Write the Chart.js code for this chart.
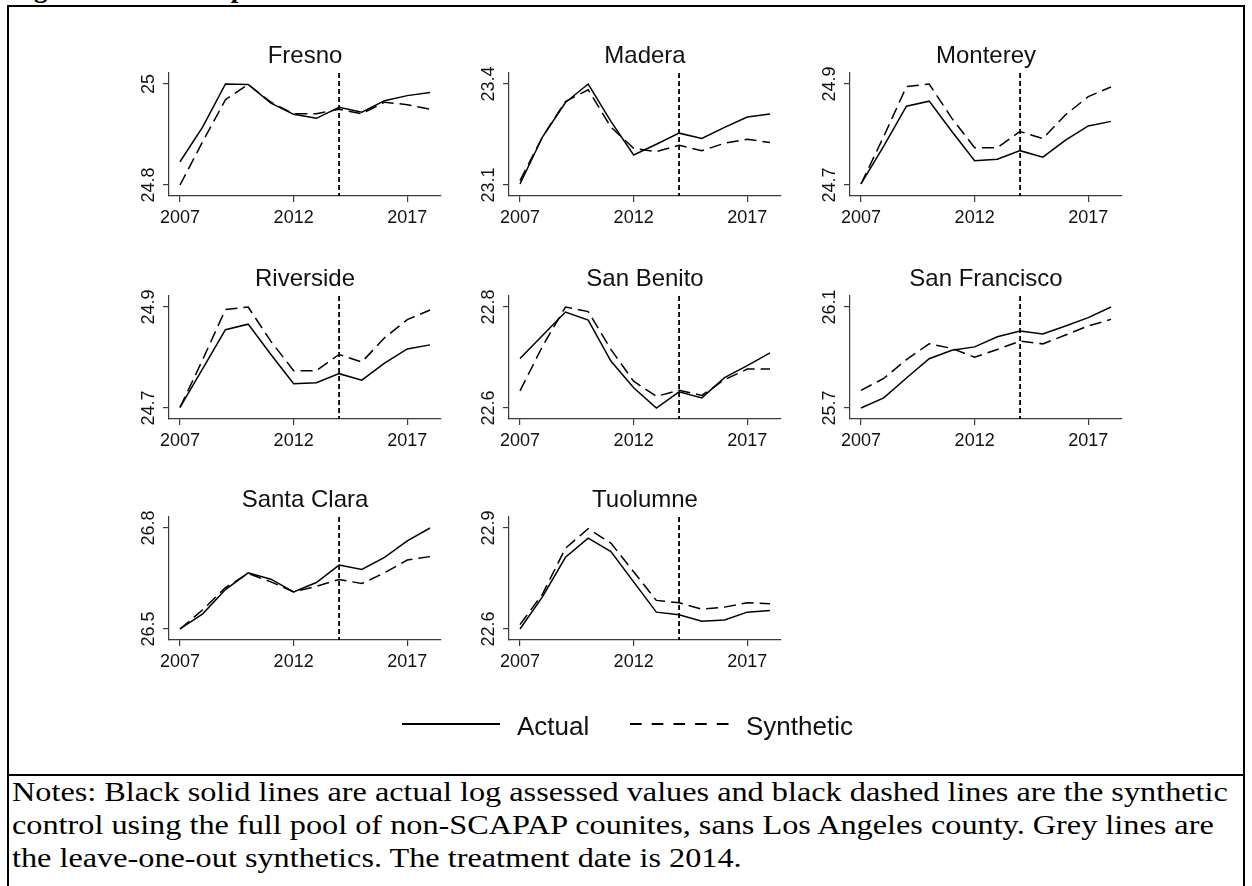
<!DOCTYPE html>
<html>
<head>
<meta charset="utf-8">
<script src="https://cdn.jsdelivr.net/npm/chart.js@4.4.0/dist/chart.umd.min.js"></script>
<style>
  body { margin: 0; width: 1252px; height: 886px; overflow: hidden; position: relative; background: #fff; }
  #frame { position: absolute; left: 7px; top: 5px; width: 1238px; height: 890px; border: 2px solid #000; box-sizing: border-box; }
  #rule { position: absolute; left: 7px; top: 774px; width: 1238px; height: 2px; background: #000; }
  #caption { position: absolute; left: 10px; top: -25px; font: bold 27px/27px "Liberation Serif", "Times New Roman", serif; white-space: nowrap; }
  #notes { position: absolute; left: 12px; top: 776px; font: 27px/33px "Liberation Serif", "Times New Roman", serif; color: #000; white-space: nowrap; transform: scaleX(1.195); transform-origin: 0 0; }
  canvas { position: absolute; }
</style>
</head>
<body>
<div id="caption">Figure 12: Treated panels</div>
<div id="frame"></div>
<div id="rule"></div>
<canvas id="legend" width="1252" height="60" style="left:0;top:700px"></canvas>
<div id="notes">Notes: Black solid lines are actual log assessed values and black dashed lines are the synthetic<br>control using the full pool of non-SCAPAP counites, sans Los Angeles county. Grey lines are<br>the leave-one-out synthetics. The treatment date is 2014.</div>

<script>
const years = [2007, 2008, 2009, 2010, 2011, 2012, 2013, 2014, 2015, 2016, 2017, 2018]
const xTicks = [2007, 2012, 2017]
const treatYear = 2014

const counties = ["Fresno", "Madera", "Monterey", "Riverside", "San Benito", "San Francisco", "Santa Clara", "Tuolumne"]

const fresnoActual    = [24.846, 24.915, 25.000, 24.999, 24.962, 24.940, 24.932, 24.954, 24.944, 24.967, 24.977, 24.983]
const fresnoSynthetic = [24.800, 24.886, 24.969, 24.999, 24.964, 24.941, 24.941, 24.950, 24.941, 24.964, 24.959, 24.950]
const fresnoTicks = [24.8, 25]

const maderaActual    = [23.103, 23.244, 23.345, 23.400, 23.289, 23.189, 23.221, 23.254, 23.238, 23.271, 23.302, 23.311]
const maderaSynthetic = [23.113, 23.244, 23.348, 23.383, 23.272, 23.209, 23.199, 23.218, 23.202, 23.224, 23.236, 23.226]
const maderaTicks = [23.1, 23.4]

const montereyActual    = [24.702, 24.777, 24.856, 24.866, 24.806, 24.748, 24.751, 24.768, 24.755, 24.789, 24.817, 24.826]
const montereySynthetic = [24.702, 24.796, 24.895, 24.900, 24.832, 24.774, 24.774, 24.806, 24.792, 24.839, 24.875, 24.894]
const montereyTicks = [24.7, 24.9]

const riversideActual    = [24.701, 24.778, 24.855, 24.866, 24.806, 24.748, 24.750, 24.768, 24.755, 24.789, 24.817, 24.825]
const riversideSynthetic = [24.701, 24.796, 24.895, 24.900, 24.832, 24.774, 24.774, 24.806, 24.791, 24.839, 24.875, 24.894]
const riversideTicks = [24.7, 24.9]

const sanBenitoActual    = [22.698, 22.744, 22.790, 22.774, 22.693, 22.640, 22.600, 22.632, 22.620, 22.660, 22.684, 22.709]
const sanBenitoSynthetic = [22.634, 22.723, 22.800, 22.791, 22.716, 22.653, 22.623, 22.635, 22.625, 22.656, 22.677, 22.677]
const sanBenitoTicks = [22.6, 22.8]

const sanFranciscoActual    = [25.700, 25.740, 25.819, 25.895, 25.929, 25.942, 25.982, 26.005, 25.993, 26.025, 26.058, 26.100]
const sanFranciscoSynthetic = [25.770, 25.817, 25.892, 25.954, 25.936, 25.901, 25.932, 25.965, 25.954, 25.989, 26.025, 26.051]
const sanFranciscoTicks = [25.7, 26.1]

const santaClaraActual    = [26.500, 26.545, 26.617, 26.667, 26.648, 26.610, 26.638, 26.690, 26.677, 26.713, 26.762, 26.800]
const santaClaraSynthetic = [26.500, 26.557, 26.623, 26.665, 26.640, 26.610, 26.627, 26.647, 26.635, 26.667, 26.705, 26.715]
const santaClaraTicks = [26.5, 26.8]

const tuolumneActual    = [22.600, 22.697, 22.813, 22.870, 22.830, 22.740, 22.650, 22.642, 22.623, 22.627, 22.650, 22.655]
const tuolumneSynthetic = [22.613, 22.705, 22.840, 22.898, 22.855, 22.770, 22.685, 22.678, 22.659, 22.665, 22.678, 22.675]
const tuolumneTicks = [22.6, 22.9]

const panelActual = [fresnoActual, maderaActual, montereyActual, riversideActual, sanBenitoActual, sanFranciscoActual, santaClaraActual, tuolumneActual]
const panelSynthetic = [fresnoSynthetic, maderaSynthetic, montereySynthetic, riversideSynthetic, sanBenitoSynthetic, sanFranciscoSynthetic, santaClaraSynthetic, tuolumneSynthetic]
const panelTicks = [fresnoTicks, maderaTicks, montereyTicks, riversideTicks, sanBenitoTicks, sanFranciscoTicks, santaClaraTicks, tuolumneTicks]

const FONT = "'Liberation Sans', Arial, sans-serif"
const AXIS = "#3a3a3a"
const colLeft = [169, 509, 850]
const rowTop = [73, 296, 517]

Chart.defaults.font.family = FONT
Chart.defaults.color = "#111"

// title, rotated y labels and the treatment line
const decor = {
  id: "decor",
  afterDatasetsDraw(chart, args, opts) {
    const ctx = chart.ctx
    const area = chart.chartArea
    const x = chart.scales.x.getPixelForValue(treatYear)
    ctx.save()
    ctx.strokeStyle = "#000"
    ctx.lineWidth = 1.8
    ctx.setLineDash([5, 3])
    ctx.beginPath()
    ctx.moveTo(x, area.top)
    ctx.lineTo(x, area.bottom)
    ctx.stroke()
    ctx.setLineDash([])

    ctx.fillStyle = "#111"
    ctx.font = "24px " + FONT
    ctx.textAlign = "center"
    ctx.textBaseline = "alphabetic"
    ctx.fillText(opts.title, (area.left + area.right) / 2, area.top - 10)

    ctx.font = "18px " + FONT
    opts.ticks.forEach(v => {
      const y = chart.scales.y.getPixelForValue(v)
      ctx.save()
      ctx.translate(area.left - 15, y)
      ctx.rotate(-Math.PI / 2)
      ctx.fillText(String(v), 0, 0)
      ctx.restore()
    })
    ctx.restore()
  }
}

function makePanel(i) {
  const canvas = document.createElement("canvas")
  canvas.width = 342
  canvas.height = 210
  canvas.style.left = (colLeft[i % 3] - 60) + "px"
  canvas.style.top = (rowTop[Math.floor(i / 3)] - 40) + "px"
  document.body.appendChild(canvas)

  const ticks = panelTicks[i]
  const pad = (ticks[1] - ticks[0]) * 0.109
  const xPad = 0.484

  new Chart(canvas, {
    type: "line",
    data: {
      datasets: [
        {
          label: "Actual",
          data: years.map((y, k) => ({ x: y, y: panelActual[i][k] })),
          borderColor: "#000",
          borderWidth: 1.5,
          pointRadius: 0,
          tension: 0
        },
        {
          label: "Synthetic",
          data: years.map((y, k) => ({ x: y, y: panelSynthetic[i][k] })),
          borderColor: "#000",
          borderWidth: 1.5,
          borderDash: [12, 6],
          pointRadius: 0,
          tension: 0
        }
      ]
    },
    options: {
      responsive: false,
      animation: false,
      devicePixelRatio: 1,
      layout: { padding: { top: 40, right: 10, left: 0, bottom: 0 } },
      plugins: {
        legend: { display: false },
        tooltip: { enabled: false },
        decor: { title: counties[i], ticks: ticks }
      },
      scales: {
        x: {
          type: "linear",
          min: years[0] - xPad,
          max: years[years.length - 1] + xPad,
          afterBuildTicks: s => { s.ticks = xTicks.map(v => ({ value: v })) },
          afterFit: s => { s.height = 47 },
          grid: { drawOnChartArea: false, drawTicks: true, tickLength: 6, color: AXIS, lineWidth: 1.2 },
          border: { display: true, color: AXIS, width: 1.2 },
          ticks: { font: { size: 18 }, color: "#111", padding: 5, maxRotation: 0, autoSkip: false, callback: v => String(v) }
        },
        y: {
          min: ticks[0] - pad,
          max: ticks[1] + pad,
          afterBuildTicks: s => { s.ticks = ticks.map(v => ({ value: v })) },
          afterFit: s => { s.width = 60 },
          grid: { drawOnChartArea: false, drawTicks: true, tickLength: 6, color: AXIS, lineWidth: 1.2 },
          border: { display: true, color: AXIS, width: 1.2 },
          ticks: { display: false }
        }
      }
    },
    plugins: [decor]
  })
}

counties.forEach((c, i) => makePanel(i))

// shared legend
const lg = document.getElementById("legend").getContext("2d")
lg.strokeStyle = "#000"
lg.lineWidth = 2
lg.beginPath(); lg.moveTo(402, 24); lg.lineTo(500, 24); lg.stroke()
lg.setLineDash([11.7, 10])
lg.beginPath(); lg.moveTo(630, 24); lg.lineTo(730, 24); lg.stroke()
lg.setLineDash([])
lg.fillStyle = "#111"
lg.font = "26px " + FONT
lg.textBaseline = "alphabetic"
lg.fillText("Actual", 517, 35)
lg.fillText("Synthetic", 746, 35)
</script>
</body>
</html>
